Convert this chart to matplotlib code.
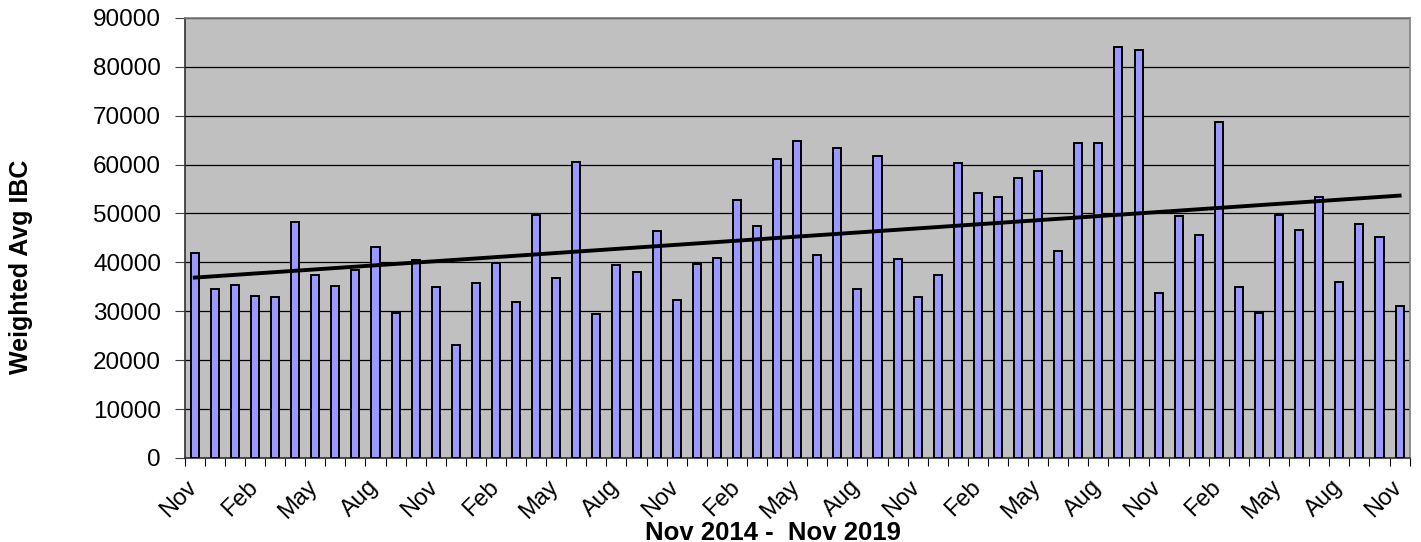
import numpy as np
import matplotlib.pyplot as plt
import matplotlib.transforms as mtransforms

plt.rcParams['font.family'] = ['Liberation Sans', 'DejaVu Sans']

# monthly weighted average IBC, Nov 2014 .. Nov 2019
months = ['Nov', 'Dec', 'Jan', 'Feb', 'Mar', 'Apr', 'May', 'Jun', 'Jul', 'Aug', 'Sep', 'Oct'] * 5 + ['Nov']
values = [41900, 34500, 35400, 33200, 32900, 48300, 37400, 35200, 38500, 43100,
          29700, 40400, 35000, 23100, 35700, 39800, 31800, 49600, 36900, 60600,
          29400, 39400, 38100, 46400, 32300, 39600, 40900, 52700, 47500, 61100,
          64800, 41600, 63300, 34500, 61800, 40700, 32900, 37400, 60400, 54200,
          53300, 57200, 58700, 42300, 64400, 64500, 84100, 83400, 33800, 49400,
          45600, 68800, 34900, 29700, 49700, 46600, 53300, 35900, 47900, 45200,
          31000]

x = np.arange(len(values))
slope, icept = np.polyfit(x, values, 1)

fig = plt.figure(figsize=(14.21, 5.42), dpi=100)
ax = fig.add_axes([0.130, 0.155, 0.862, 0.812])
ax.set_facecolor('#c0c0c0')

ax.bar(x, values, width=0.4, color='#9999ff', edgecolor='black', linewidth=1.4, zorder=3)
ax.plot(x, slope * x + icept, color='black', linewidth=2.8, zorder=4)

ax.set_xlim(-0.5, len(values) - 0.5)
ax.set_ylim(0, 90000)
ax.set_yticks(np.arange(0, 90001, 10000))
ax.yaxis.grid(True, color='black', linewidth=0.9, zorder=0)
ax.set_axisbelow(True)

ax.set_xticks(x[::3])
ax.set_xticklabels(months[::3], rotation=45, ha='right', fontsize=17)
ax.set_xticks(np.arange(-0.5, len(values), 1), minor=True)
ax.tick_params(axis='x', which='major', length=0, pad=13)
ax.tick_params(axis='x', which='minor', length=6, color='black', width=0.8)
ax.tick_params(axis='y', labelsize=17.5, length=7, width=0.8, pad=10, color='#404040')

shift = mtransforms.ScaledTranslation(7 / 100, 0, fig.dpi_scale_trans)
for lbl in ax.get_xticklabels():
    lbl.set_transform(lbl.get_transform() + shift)

for s in ['top', 'right']:
    ax.spines[s].set_color('#808080')
for s in ['left', 'bottom']:
    ax.spines[s].set_color('#303030')
for s in ax.spines.values():
    s.set_linewidth(1.2)

ax.set_ylabel('Weighted Avg IBC', fontsize=18, fontweight='bold')
ax.yaxis.set_label_coords(-0.124, 0.434)
ax.text(0.48, -0.17, 'Nov 2014 -  Nov 2019', transform=ax.transAxes,
        ha='center', va='center', fontsize=18.5, fontweight='bold')

plt.savefig('out.png', dpi=100)
